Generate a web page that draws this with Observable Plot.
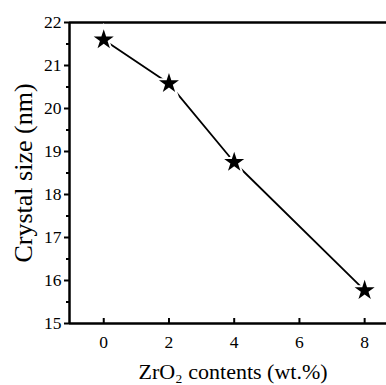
<!DOCTYPE html>
<html>
<head>
<meta charset="utf-8">
<script src="https://cdn.jsdelivr.net/npm/d3@7"></script>
<script src="https://cdn.jsdelivr.net/npm/@observablehq/plot@0.6"></script>
<style>
  html, body { margin: 0; padding: 0; background: #fff; }
  svg { display: block; }
</style>
</head>
<body>
<div id="chart"></div>
<script>
const zro2 = [0, 2, 4, 8];
const crystalSize = [21.6, 20.58, 18.75, 15.77];
const xTicks = [0, 2, 4, 6, 8];
const yTicks = [15, 16, 17, 18, 19, 20, 21, 22];
const yMinor = [15.5, 16.5, 17.5, 18.5, 19.5, 20.5, 21.5];
const xLabel = "ZrO\u2082 contents (wt.%)";
const yLabel = "Crystal size (nm)";

const data = zro2.map((x, i) => ({x, y: crystalSize[i]}));
const xDomain = [-1.05, 8.67];
const yDomain = [15, 22];

const plot = Plot.plot({
  width: 386,
  height: 385,
  marginLeft: 69,
  marginRight: 0,
  marginTop: 22,
  marginBottom: 62,
  style: {fontFamily: "'Liberation Serif', 'Times New Roman', serif", fontSize: "17.5px", color: "#000", background: "#fff"},
  x: {domain: xDomain},
  y: {domain: yDomain},
  marks: [
    Plot.axisY({ticks: yTicks, tickSize: 5, tickPadding: 3, strokeWidth: 2, label: null, fontSize: 17.5, tickFormat: "d"}),
    Plot.axisY({ticks: yMinor, tickSize: 3, text: null, strokeWidth: 2, label: null}),
    Plot.axisX({ticks: xTicks, tickSize: 0, tickPadding: 12, label: null, fontSize: 17.5, tickFormat: "d"}),
    Plot.axisX({ticks: xTicks, tickSize: -5, text: null, strokeWidth: 2, label: null}),
    Plot.ruleY([yDomain[1]], {strokeWidth: 2.5}),
    Plot.ruleY([yDomain[0]], {strokeWidth: 2.5}),
    Plot.ruleX([xDomain[0]], {strokeWidth: 2.5}),
    Plot.line(data, {x: "x", y: "y", stroke: "#000", strokeWidth: 1.8}),
    Plot.dot(data, {x: "x", y: "y", symbol: "star", r: 6.3, fill: "#000", stroke: "#fff", strokeWidth: 4, paintOrder: "stroke"}),
    Plot.text([yLabel], {frameAnchor: "left", textAnchor: "middle", lineAnchor: "middle", rotate: -90, dx: -46, fontSize: 26, fill: "#000"}),
    Plot.text([xLabel], {frameAnchor: "bottom", textAnchor: "middle", lineAnchor: "middle", dx: 5, dy: 48, fontSize: 22, fill: "#000"})
  ]
});
document.getElementById("chart").appendChild(plot);
</script>
</body>
</html>
